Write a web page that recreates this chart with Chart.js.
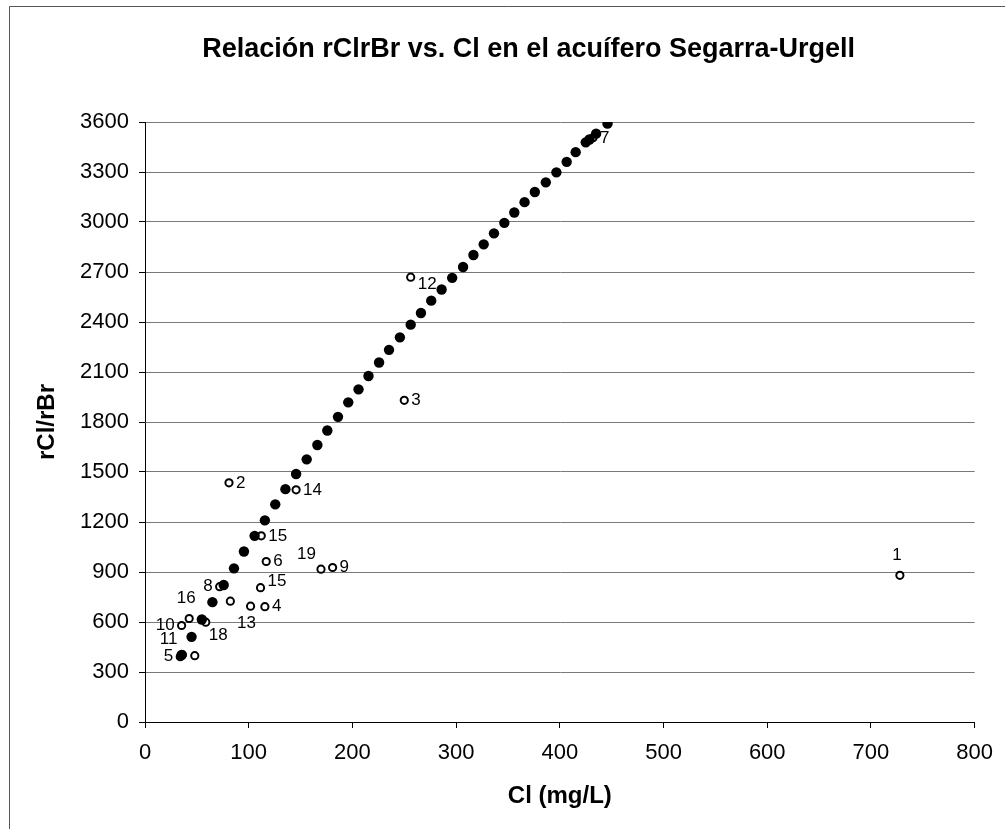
<!DOCTYPE html>
<html>
<head>
<meta charset="utf-8">
<script src="https://cdn.jsdelivr.net/npm/chart.js@4.4.1/dist/chart.umd.min.js"></script>
<style>
  html, body { margin: 0; padding: 0; background: #ffffff; }
  #wrap { width: 1005px; height: 829px; position: relative; }
</style>
</head>
<body>
<div id="wrap"><canvas id="c" width="1005" height="829"></canvas></div>
<script>
// ---- Data ----
const chartTitle = 'Relación rClrBr vs. Cl en el acuífero Segarra-Urgell';
const xAxisTitle = 'Cl (mg/L)';
const yAxisTitle = 'rCl/rBr';
const xTicks = [0, 100, 200, 300, 400, 500, 600, 700, 800];
const yTicks = [0, 300, 600, 900, 1200, 1500, 1800, 2100, 2400, 2700, 3000, 3300, 3600];

// Mixing line (filled dots)
const lineCl = [35.3, 44.9, 54.8, 65, 75.9, 85.8, 95.4, 105.7, 115.6, 125.6, 135.4, 145.7, 155.9, 166.2, 175.8, 186.1, 196, 205.9, 215.5, 225.7, 235.3, 245.8, 256.2, 266.1, 276, 286, 296.2, 306.7, 316.7, 326.6, 336.5, 346.5, 356.1, 366, 375.9, 386.5, 396.7, 406.6, 415.3, 425, 428.5, 435, 446];
const lineRatio = [402, 511, 615, 719, 822, 922, 1023, 1117, 1210, 1306, 1397, 1488, 1576, 1662, 1749, 1831, 1918, 1996, 2076, 2157, 2233, 2308, 2384, 2454, 2528, 2595, 2665, 2730, 2802, 2866, 2932, 2995, 3057, 3119, 3180, 3238, 3298, 3361, 3419, 3478, 3495, 3530, 3590];

// Samples (open circles)
const sampleLabels = ['1', '2', '3', '4', '5', '6', '7', '8', '9', '10', '11', '12', '13', '14', '15', '15', '16', '18', '19', '', ''];
const sampleCl = [727.9, 81, 250, 115.6, 34, 116.9, 432, 72, 180.9, 35.3, 36, 256.2, 101.8, 145.7, 112.1, 111.4, 42.6, 58.6, 169.7, 82.3, 48];
const sampleRatio = [880, 1435, 1930, 692, 392, 963, 3505, 812, 927, 579, 404, 2669, 695, 1393, 1117, 806, 621, 599, 917, 725, 398];
const sampleLabelPlace = ['above', 'right', 'right', 'right', 'left', 'right', 'right', 'left', 'right', 'left', 'aboveLeft', 'rightBelow', 'below', 'right', 'right', 'rightAbove', 'above', 'belowRight', 'aboveLeft', 'right', 'right'];

const lineData = lineCl.map((x, i) => ({ x: x, y: lineRatio[i] }));
const sampleData = sampleCl.map((x, i) => ({ x: x, y: sampleRatio[i] }));

const FONT = "'Liberation Sans', Arial, sans-serif";

const titlePlugin = {
  id: 'topTitle',
  afterDraw(chart) {
    const ctx = chart.ctx;
    ctx.save();
    ctx.fillStyle = '#000';
    ctx.font = 'bold 27px ' + FONT;
    ctx.textAlign = 'center';
    ctx.textBaseline = 'middle';
    ctx.fillText(chartTitle, chart.width * 0.526, 50);
    // outer chart border (left and top edges visible in the reference)
    ctx.strokeStyle = '#555';
    ctx.lineWidth = 1;
    ctx.beginPath();
    ctx.moveTo(9.5, chart.height);
    ctx.lineTo(9.5, 6.5);
    ctx.lineTo(chart.width, 6.5);
    ctx.stroke();
    ctx.restore();
  }
};

const labelPlugin = {
  id: 'pointLabels',
  afterDatasetsDraw(chart) {
    const meta = chart.getDatasetMeta(1);
    const ctx = chart.ctx;
    ctx.save();
    ctx.fillStyle = '#000';
    ctx.font = '17px ' + FONT;
    meta.data.forEach((pt, i) => {
      const t = sampleLabels[i];
      if (!t) return;
      let x = pt.x, y = pt.y, align = 'left';
      switch (sampleLabelPlace[i]) {
        case 'right': x += 7; align = 'left'; break;
        case 'rightBelow': x += 7; y += 7; align = 'left'; break;
        case 'rightAbove': x += 7; y -= 6; align = 'left'; break;
        case 'left': x -= 7; align = 'right'; break;
        case 'above': y -= 20; x -= 3; align = 'center'; break;
        case 'below': y += 17; x -= 4; align = 'center'; break;
        case 'aboveLeft': x -= 5; y -= 15; align = 'right'; break;
        case 'belowRight': x += 3; y += 13; align = 'left'; break;
      }
      ctx.textAlign = align;
      ctx.textBaseline = 'middle';
      ctx.fillText(t, x, y);
    });
    ctx.restore();
  }
};

new Chart(document.getElementById('c'), {
  type: 'scatter',
  data: {
    datasets: [
      {
        label: 'Línea de mezcla',
        data: lineData,
        pointStyle: 'circle',
        pointRadius: 5.2,
        pointBackgroundColor: '#000',
        pointBorderColor: '#000',
        pointBorderWidth: 0,
        showLine: false
      },
      {
        label: 'Muestras',
        data: sampleData,
        pointStyle: 'circle',
        pointRadius: 3.6,
        pointBackgroundColor: '#fff',
        pointBorderColor: '#000',
        pointBorderWidth: 2,
        showLine: false
      }
    ]
  },
  options: {
    responsive: false,
    animation: false,
    layout: { padding: { top: 122, right: 27, bottom: 0, left: 0 } },
    plugins: {
      legend: { display: false },
      tooltip: { enabled: false },
      title: { display: false }
    },
    scales: {
      x: {
        type: 'linear',
        min: 0, max: 800,
        afterBuildTicks(scale) { scale.ticks = xTicks.map(v => ({ value: v })); },
        afterFit(scale) { scale.height = 107; },
        ticks: { font: { family: FONT, size: 22 }, color: '#000', padding: 12, maxRotation: 0, callback: v => String(v) },
        grid: { drawOnChartArea: false, drawTicks: true, tickLength: 6, tickColor: '#000' },
        border: { display: true, color: '#000', width: 1 },
        title: { display: true, text: xAxisTitle, color: '#000', font: { family: FONT, size: 24, weight: 'bold' }, padding: { top: 0, bottom: 18 } }
      },
      y: {
        type: 'linear',
        min: 0, max: 3600,
        afterBuildTicks(scale) { scale.ticks = yTicks.map(v => ({ value: v })); },
        afterFit(scale) { scale.width = 145; },
        ticks: { font: { family: FONT, size: 22 }, color: '#000', padding: 10, callback: v => String(v) },
        grid: { color: '#7a7a7a', lineWidth: 1, drawTicks: true, tickLength: 6, tickColor: '#000' },
        border: { display: true, color: '#000', width: 1 },
        title: { display: true, text: yAxisTitle, color: '#000', font: { family: FONT, size: 24, weight: 'bold' }, padding: { top: 33, bottom: 0 } }
      }
    }
  },
  plugins: [titlePlugin, labelPlugin]
});
</script>
</body>
</html>
